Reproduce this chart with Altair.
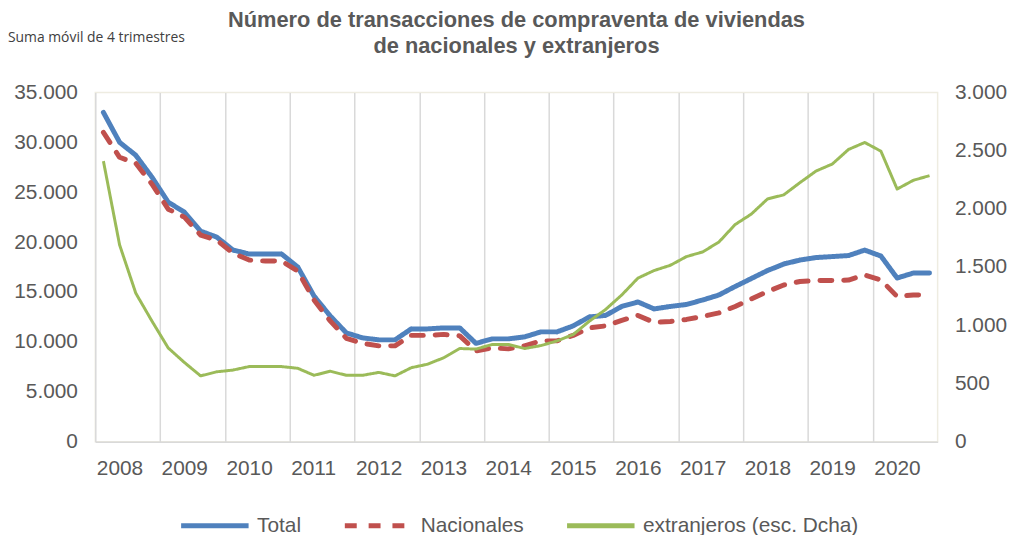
import altair as alt
import pandas as pd

series_names = ["Total", "Nacionales", "extranjeros (esc. Dcha)"]
first_year = 2008

total = [33000, 30000, 28700, 26500, 24000, 23000, 21100, 20500, 19200, 18800, 18800, 18800,
         17500, 14600, 12600, 10900, 10400, 10200, 10200, 11300, 11300, 11400, 11400, 9850,
         10300, 10300, 10500, 11000, 11000, 11600, 12500, 12650, 13550, 14000, 13300, 13550,
         13750, 14200, 14700, 15550, 16350, 17150, 17800, 18200, 18450, 18550, 18650, 19200,
         18600, 16400, 16900, 16900]
nacionales = [31000, 28500, 27900, 25800, 23300, 22500, 20700, 20200, 18900, 18200, 18100, 18100,
              17100, 14200, 12100, 10350, 9850, 9600, 9600, 10650, 10650, 10750, 10600, 9100,
              9400, 9300, 9600, 10100, 10100, 10650, 11400, 11600, 12150, 12650, 11950, 12050,
              12250, 12550, 12900, 13550, 14300, 15050, 15700, 16050, 16150, 16150, 16200, 16700,
              16200, 14550, 14700, 14700]
extranjeros = [2410, 1690, 1275, 1035, 805, 680, 565, 600, 615, 645, 645, 645,
               630, 570, 605, 570, 570, 595, 565, 635, 665, 720, 800, 795,
               835, 835, 800, 825, 865, 920, 1035, 1135, 1260, 1405, 1470, 1515,
               1590, 1630, 1715, 1865, 1955, 2085, 2120, 2225, 2325, 2385, 2510, 2570,
               2495, 2170, 2245, 2285]

title_lines = ["Número de transacciones de compraventa de viviendas",
               "de nacionales y extranjeros"]
subtitle = "Suma móvil de 4 trimestres"

rows = []
for name, vals in zip(series_names, [total, nacionales, extranjeros]):
    for i, v in enumerate(vals):
        rows.append({"pos": i + 0.5, "serie": name, "valor": v})
df = pd.DataFrame(rows)

n_q = len(total)
W, H = 849, 352
GRAY = "#595959"
FONT = "Liberation Sans"

color_scale = alt.Scale(domain=series_names, range=["#4F81BD", "#C0504D", "#9BBB59"])
dash_scale = alt.Scale(domain=series_names, range=[[1, 0], [12, 12], [1, 0]])

legend = alt.Legend(
    orient="none", legendX=84, legendY=400, direction="horizontal", title=None,
    symbolType="stroke", symbolSize=4624, symbolStrokeWidth=5,
    labelFontSize=21, labelFont=FONT, labelColor=GRAY, columnPadding=33, labelOffset=6,
    labelLimit=400,
)

x_enc = alt.X(
    "pos:Q",
    scale=alt.Scale(domain=[0, n_q], nice=False, zero=False),
    axis=alt.Axis(
        values=list(range(0, n_q, 4)), title=None, grid=True, gridColor="#D9D9D9", gridWidth=1.5,
        domain=True, domainColor="#D9D9D9", domainWidth=1.5, ticks=False,
        labelExpr=f"format({first_year} + datum.value/4, 'd')",
        labelAlign="left", labelOffset=1, labelPadding=16, labelOverlap=False, labelFlush=False,
        labelBound=False,
    ),
)

base = alt.Chart(df)

left = base.transform_filter(
    alt.FieldOneOfPredicate(field="serie", oneOf=series_names[:2])
).mark_line(strokeWidth=5, strokeCap="round", strokeJoin="round").encode(
    x=x_enc,
    y=alt.Y("valor:Q", scale=alt.Scale(domain=[0, 35000], nice=False),
            axis=alt.Axis(values=list(range(0, 35001, 5000)), title=None, grid=False,
                          domain=False, ticks=False, labelPadding=18,
                          labelExpr="replace(format(datum.value, ','), ',', '.')")),
    color=alt.Color("serie:N", scale=color_scale, legend=legend, sort=series_names),
    strokeDash=alt.StrokeDash("serie:N", scale=dash_scale, legend=legend, sort=series_names),
    detail="serie:N",
)

right = base.transform_filter(
    alt.FieldEqualPredicate(field="serie", equal=series_names[2])
).mark_line(strokeWidth=3, strokeJoin="round").encode(
    x=x_enc,
    y=alt.Y("valor:Q", scale=alt.Scale(domain=[0, 3000], nice=False),
            axis=alt.Axis(values=list(range(0, 3001, 500)), title=None, grid=False, orient="right",
                          domain=False, ticks=False, labelPadding=17,
                          labelExpr="replace(format(datum.value, ','), ',', '.')")),
    color=alt.Color("serie:N", scale=color_scale, legend=legend, sort=series_names),
    strokeDash=alt.StrokeDash("serie:N", scale=dash_scale, legend=legend, sort=series_names),
)

note = alt.Chart(pd.DataFrame({"t": [subtitle]})).mark_text(
    align="left", baseline="middle", fontSize=14, font="Open Sans", color="#404040"
).encode(x=alt.value(-88), y=alt.value(-55), text="t:N")

heading = alt.Chart(pd.DataFrame({"t": ["\n".join(title_lines)]})).mark_text(
    align="center", baseline="top", fontSize=22, font=FONT, fontWeight="bold",
    color=GRAY, lineBreak="\n", lineHeight=26
).encode(x=alt.value(W / 2), y=alt.value(-83), text="t:N")

chart = alt.layer(left, right, note, heading).resolve_scale(y="independent").properties(
    width=W, height=H,
    autosize=alt.AutoSizeParams(type="none"),
    padding={"left": 88, "top": 83, "right": 79, "bottom": 92},
).configure_view(stroke="#EEECE1", strokeWidth=1.5).configure_axis(
    labelFont=FONT, labelFontSize=21, labelColor=GRAY
)

chart.save("out.html", embed_options={"renderer": "svg", "actions": False})
